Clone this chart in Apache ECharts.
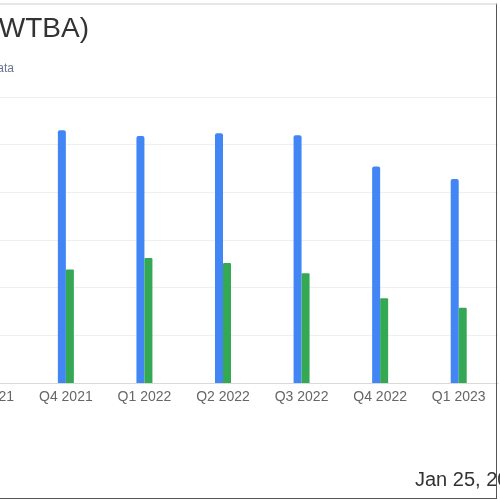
<!DOCTYPE html>
<html>
<head>
<meta charset="utf-8">
<title>WTBA quarterly revenue and net income</title>
<script src="https://cdn.jsdelivr.net/npm/echarts@6/dist/echarts.min.js"></script>
<style>
  html, body { margin: 0; padding: 0; background: #fff; overflow: hidden; }
  #frame { position: relative; width: 500px; height: 500px; overflow: hidden; }
  /* the chart is wider than the window, the window shows a part of it */
  #chart { position: absolute; left: -110px; top: 0; width: 640px; height: 500px; }
  #edge { position: absolute; left: 0; top: 3px; width: 496px; height: 493px;
          border-top: 2px solid #e6e6e6; border-right: 1px solid #555; border-bottom: 1px solid #555;
          pointer-events: none; }
</style>
</head>
<body>
<div id="frame">
  <div id="chart"></div>
  <div id="edge"></div>
</div>
<script>
  // quarters, values in millions of USD
  var quarters = ['Q3 2021', 'Q4 2021', 'Q1 2022', 'Q2 2022', 'Q3 2022', 'Q4 2022', 'Q1 2023']
  var revenue = [null, 26.5, 25.9, 26.2, 26.0, 22.7, 21.4]
  var netIncome = [null, 11.9, 13.1, 12.6, 11.5, 8.9, 7.9]
  var yTicks = [0, 5, 10, 15, 20, 25, 30]

  var font = 'Liberation Sans, Arial, sans-serif'

  var chart = echarts.init(document.getElementById('chart'))

  var option = {
    animation: false,
    title: [
      {
        text: 'West Bancorporation Inc (WTBA)',
        right: 436,
        top: 10,
        textStyle: { fontFamily: font, fontSize: 28, fontWeight: 'normal', color: '#333' }
      },
      {
        text: 'Revenue and Net Income, Quarterly Data',
        right: 511,
        top: 58,
        textStyle: { fontFamily: font, fontSize: 12, fontWeight: 'normal', color: '#6b7590' }
      },
      {
        text: 'Jan 25, 2024',
        left: 520,
        top: 465,
        textStyle: { fontFamily: font, fontSize: 20, fontWeight: 'normal', color: '#333' }
      }
    ],
    grid: {
      left: 58,
      right: 32,
      top: 97,
      bottom: 117
    },
    xAxis: {
      type: 'category',
      data: quarters,
      axisLine: { lineStyle: { color: '#d9d9d9' } },
      axisTick: { show: false },
      axisLabel: { fontFamily: font, fontSize: 14, color: '#666', margin: 7 }
    },
    yAxis: {
      type: 'value',
      min: yTicks[0],
      max: yTicks[yTicks.length - 1],
      interval: 5,
      axisLine: { show: false },
      axisTick: { show: false },
      axisLabel: {
        fontFamily: font, fontSize: 12, color: '#666',
        formatter: function (v) { return v === 0 ? '0' : '$' + v + 'M' }
      },
      splitLine: { lineStyle: { color: '#efefef' } }
    },
    series: [
      {
        name: 'Revenue',
        type: 'bar',
        data: revenue,
        barWidth: 8,
        barGap: '0%',
        itemStyle: { color: '#4285F4', borderRadius: [2, 2, 0, 0] }
      },
      {
        name: 'Net Income',
        type: 'bar',
        data: netIncome,
        barWidth: 8,
        itemStyle: { color: '#34A853', borderRadius: [1, 1, 0, 0] }
      }
    ]
  }

  chart.setOption(option)
</script>
</body>
</html>
